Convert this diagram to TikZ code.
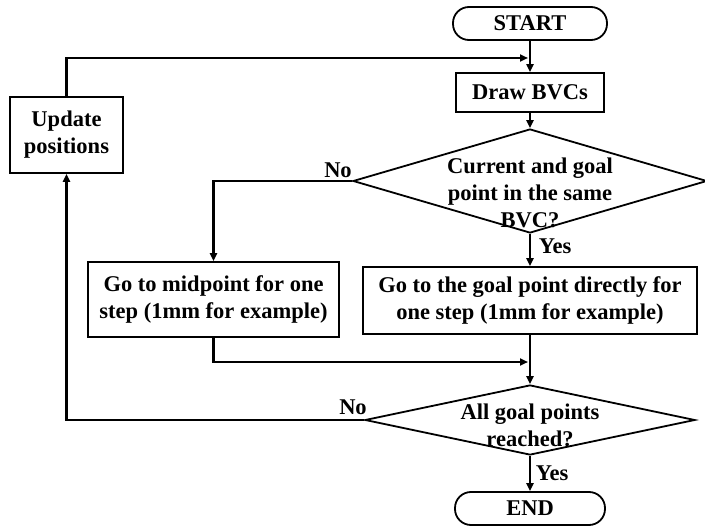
\documentclass[tikz,border=0pt]{standalone}
\usepackage{fontspec}
\setmainfont{Liberation Serif}
\usetikzlibrary{arrows.meta,shapes.geometric}
\begin{document}
\begin{tikzpicture}[x=1pt,y=-1pt,
  every node/.style={font=\fontsize{22.5}{27}\selectfont\bfseries, align=center, inner sep=0pt},
  box/.style={draw, line width=1.8pt, rectangle},
  term/.style={draw, line width=1.8pt, rectangle, rounded corners=16pt, minimum height=33pt},
  dia/.style={draw, diamond, line width=1.8pt, inner sep=0pt},
  conn/.style={line width=2.4pt, -{Triangle[length=8pt,width=7pt]}},
  lbl/.style={font=\fontsize{22.5}{27}\selectfont\bfseries}
]
\useasboundingbox (0,0) rectangle (705,527);
\node[term, minimum width=154pt] (start) at (530,23.5) {START};
\node[box, minimum width=148pt, minimum height=39pt] (bvc) at (530,92.5) {Draw BVCs};
\node[dia, minimum width=354pt, minimum height=104pt] (d1) at (530,181) {};
\node (d1t) at (530,193) {Current and goal\\point in the same\\BVC?};
\node[box, minimum width=113pt, minimum height=76pt] (upd) at (66.5,135) {Update\\positions};
\node[box, minimum width=251pt, minimum height=75pt] (mid) at (213.5,299.5) {Go to midpoint for one\\step (1mm for example)};
\node[box, minimum width=334pt, minimum height=67pt] (goal) at (530,300.5) {Go to the goal point directly for\\one step (1mm for example)};
\node[dia, minimum width=330pt, minimum height=70pt] (d2) at (530,420) {};
\node (d2t) at (530,425) {All goal points\\reached?};
\node[term, minimum width=150pt] (stop) at (530,508.5) {END};

\node[lbl] (no1) at (338,170) {No};
\node[lbl] (yes1) at (555,246) {Yes};
\node[lbl] (no2) at (353,407) {No};
\node[lbl] (yes2) at (552,473) {Yes};

\coordinate (fbend) at (528,58);
\coordinate (mergept) at (528,362);

\draw[conn] (start.south) -- (bvc.north);
\draw[conn] (upd.north) |- (fbend);
\draw[conn] (bvc.south) -- (d1.north);
\draw[conn] (d1.west) -| (mid.north);
\draw[conn] (d1.south) -- (goal.north);
\draw[conn] (mid.south) |- (mergept);
\draw[conn] (goal.south) -- (d2.north);
\draw[conn] (d2.west) -| (upd.south);
\draw[conn] (d2.south) -- (stop.north);
\end{tikzpicture}
\end{document}
